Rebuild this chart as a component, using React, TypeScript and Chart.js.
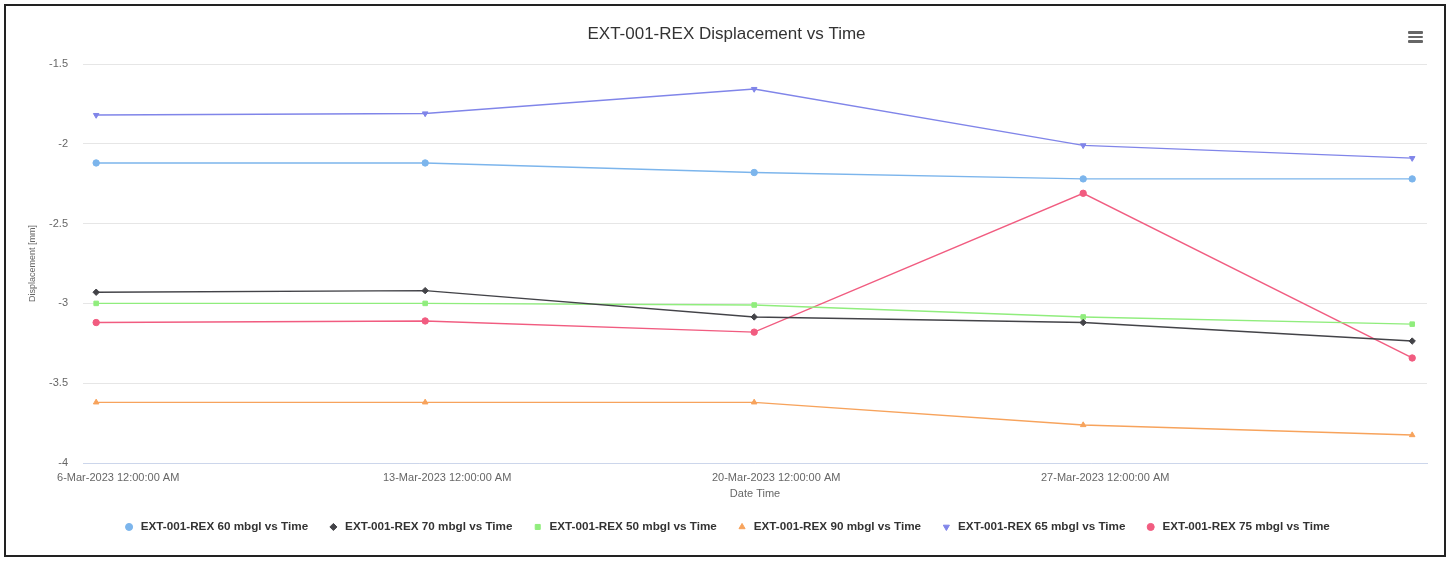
import { useEffect, useRef } from 'react';
import { Chart, registerables } from 'chart.js';

Chart.register(...registerables);

const categories = [
  '6-Mar-2023 12:00:00 AM',
  '13-Mar-2023 12:00:00 AM',
  '20-Mar-2023 12:00:00 AM',
  '27-Mar-2023 12:00:00 AM',
  '3-Apr-2023 12:00:00 AM',
];
const labeledTicks = [0, 1, 2, 3];

const s60 = [-2.12, -2.12, -2.18, -2.22, -2.22];
const s70 = [-2.93, -2.92, -3.085, -3.12, -3.236];
const s50 = [-3.0, -3.0, -3.01, -3.085, -3.13];
const s90 = [-3.62, -3.62, -3.62, -3.762, -3.825];
const s65 = [-1.82, -1.81, -1.657, -2.01, -2.09];
const s75 = [-3.12, -3.11, -3.18, -2.31, -3.342];

const yMin = -4;
const yMax = -1.5;
const yStep = 0.5;

const FONT = "'Liberation Sans', Arial, sans-serif";

function series(label: string, values: number[], color: string, pointStyle: string, rotation = 0) {
  return {
    label,
    data: values.map((y, i) => ({ x: i, y })),
    borderColor: color,
    backgroundColor: color,
    pointBackgroundColor: color,
    pointBorderColor: color,
    pointStyle,
    pointRotation: rotation,
    pointRadius: 3.2,
    pointBorderWidth: 1,
    borderWidth: 1.4,
    tension: 0,
    fill: false,
  };
}

export default function App() {
  const ref = useRef<HTMLCanvasElement>(null);

  useEffect(() => {
    const canvas = ref.current;
    if (!canvas) return;
    const chart = new Chart(canvas, {
      type: 'line',
      data: {
        datasets: [
          series('EXT-001-REX 60 mbgl vs Time', s60, '#7cb5ec', 'circle'),
          series('EXT-001-REX 70 mbgl vs Time', s70, '#434348', 'rectRot'),
          series('EXT-001-REX 50 mbgl vs Time', s50, '#90ed7d', 'rect'),
          series('EXT-001-REX 90 mbgl vs Time', s90, '#f7a35c', 'triangle'),
          series('EXT-001-REX 65 mbgl vs Time', s65, '#8085e9', 'triangle', 180),
          series('EXT-001-REX 75 mbgl vs Time', s75, '#f15c80', 'circle'),
        ] as any,
      },
      options: {
        responsive: false,
        animation: false,
        devicePixelRatio: 1,
        layout: { padding: { left: 0, right: 0, top: 0, bottom: 18.2 } },
        plugins: {
          title: {
            display: true,
            text: 'EXT-001-REX Displacement vs Time',
            color: '#333333',
            font: { family: FONT, size: 17, weight: 'normal' },
            padding: { top: 23.8, bottom: 19.8 },
          },
          legend: {
            display: true,
            position: 'bottom',
            labels: {
              usePointStyle: true,
              boxWidth: 11.7,
              boxHeight: 5,
              padding: 19.4,
              color: '#333333',
              font: { family: FONT, size: 11.7, weight: 'bold' },
            },
          },
          tooltip: { enabled: false },
        },
        scales: {
          x: {
            type: 'linear',
            min: -0.04,
            max: 4.045,
            afterBuildTicks: (scale: any) => {
              scale.ticks = labeledTicks.map((v) => ({ value: v }));
            },
            afterFit: (scale: any) => {
              scale.height = 38.7;
            },
            grid: { display: false, drawTicks: false },
            border: { display: true, color: '#ccd6eb', width: 1 },
            ticks: {
              autoSkip: false,
              maxRotation: 0,
              minRotation: 0,
              padding: 8,
              labelOffset: 22,
              color: '#666666',
              font: { family: FONT, size: 11 },
              callback: (v: any) => categories[Number(v)] ?? '',
            },
            title: {
              display: true,
              text: 'Date Time',
              color: '#666666',
              font: { family: FONT, size: 11 },
              padding: { top: 0, bottom: 1.1 },
            },
          },
          y: {
            type: 'linear',
            position: 'left',
            min: yMin,
            max: yMax,
            afterFit: (scale: any) => {
              scale.width = 83;
            },
            grid: { color: '#e6e6e6', drawTicks: false, lineWidth: 1 },
            border: { display: false },
            ticks: {
              stepSize: yStep,
              padding: 15,
              color: '#666666',
              font: { family: FONT, size: 11 },
              callback: (v: any) => String(v),
            },
            title: {
              display: true,
              text: 'Displacement [mm]',
              color: '#666666',
              font: { family: FONT, size: 9 },
              padding: { top: 27.6, bottom: 0 },
            },
          },
          yRight: {
            type: 'linear',
            position: 'right',
            display: true,
            afterFit: (scale: any) => {
              scale.width = 26;
            },
            grid: { display: false, drawTicks: false },
            border: { display: false },
            ticks: { display: false },
          },
        },
      } as any,
    });
    return () => chart.destroy();
  }, []);

  const bar = (top: number) => (
    <div
      style={{
        position: 'absolute',
        left: 1408,
        top,
        width: 15,
        height: 2.5,
        background: '#666666',
        borderRadius: 1,
      }}
    />
  );

  return (
    <div
      style={{
        position: 'fixed',
        left: 0,
        top: 0,
        width: 1453,
        height: 561,
        background: '#ffffff',
        overflow: 'hidden',
      }}
    >
      <canvas
        ref={ref}
        width={1453}
        height={561}
        style={{ position: 'absolute', left: 0, top: 0, width: 1453, height: 561 }}
      />
      <div
        style={{
          position: 'absolute',
          left: 4,
          top: 4,
          width: 1442,
          height: 553,
          border: '2px solid #222222',
          boxSizing: 'border-box',
          pointerEvents: 'none',
        }}
      />
      {bar(31)}
      {bar(35.5)}
      {bar(40)}
    </div>
  );
}
